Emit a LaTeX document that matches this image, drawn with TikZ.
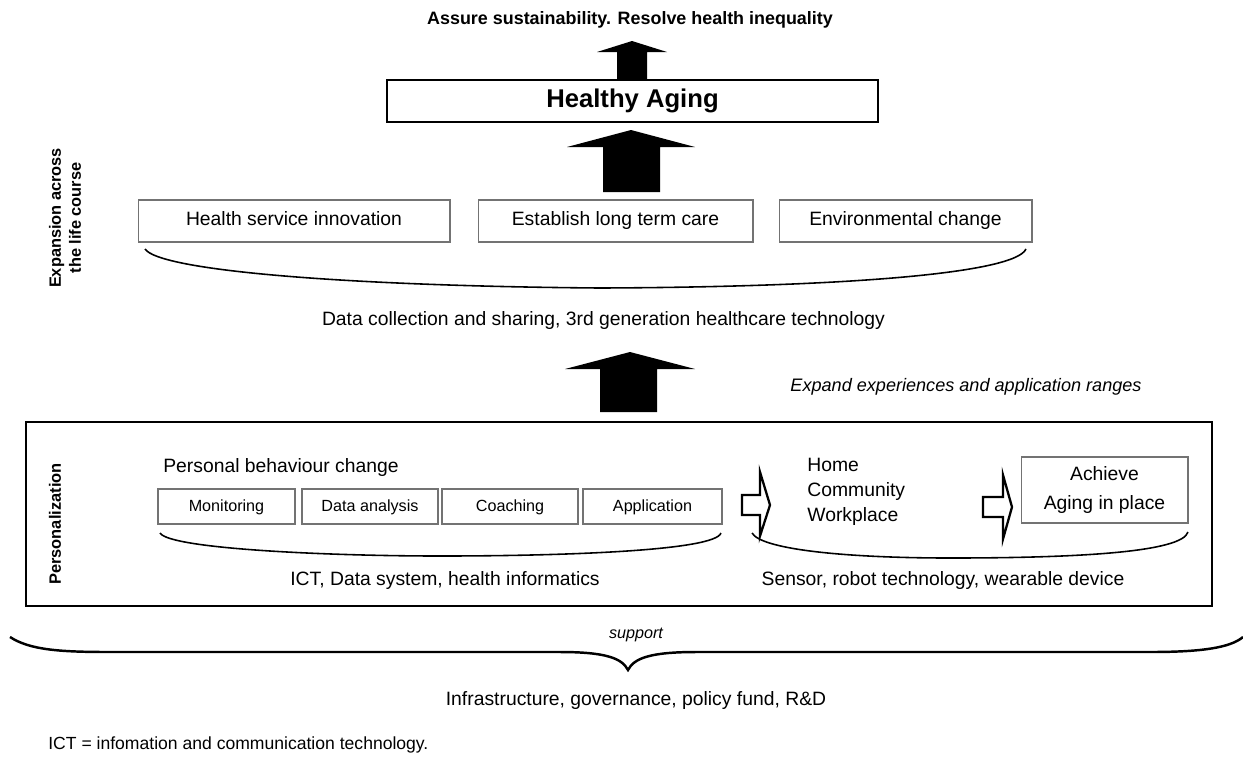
\documentclass[tikz,border=0pt]{standalone}
\usepackage{fontspec}
\setmainfont{Liberation Sans}
\begin{document}
\begin{tikzpicture}[x=0.02cm, y=-0.02cm,
    txt/.style={inner sep=0pt, font=\fontsize{11}{13}\selectfont},
    wbox/.style={draw=black!55, line width=0.6pt, minimum height=0.84cm,
      inner sep=0pt, text height=1.6ex, text depth=0.6ex,
      font=\fontsize{11}{13}\selectfont},
    sbox/.style={draw=black!55, line width=0.6pt, minimum height=0.7cm,
      inner sep=0pt, text height=1.6ex, text depth=0.6ex,
      font=\fontsize{9.2}{11}\selectfont},
    brace/.style={line width=0.9pt},
    hollow/.style={draw, line width=1.3pt, line join=miter, fill=white}]
  \useasboundingbox (0,0) rectangle (1243,765);

  % Goal
  \node[txt, font=\bfseries\fontsize{10.2}{12}\selectfont] (goal) at (630,20)
    {Assure sustainability. Resolve health inequality};
  \fill (617,79)--(617,52)--(597,52)--(632,41)--(667,52)--(647,52)--(647,79)--cycle;
  \node[draw, line width=1.1pt, minimum width=9.82cm, minimum height=0.84cm,
    font=\bfseries\fontsize{14.6}{17}\selectfont] (ha) at (632.5,101) {Healthy Aging};
  \fill (603,192)--(603,147)--(567,147)--(631,130)--(695,147)--(660,147)--(660,192)--cycle;

  % Expansion across the life course
  \node[wbox, minimum width=6.24cm] (hsi) at (294,221) {Health service innovation};
  \node[wbox, minimum width=5.5cm] (ltc) at (615.5,221) {Establish long term care};
  \node[wbox, minimum width=5.06cm] (env) at (905.5,221) {Environmental change};
  \draw[brace] (145,249) .. controls (160,271) and (350,286) .. (600,288)
    .. controls (850,287) and (1015,273) .. (1026,249);
  \node[txt] (data) at (603.5,320)
    {Data collection and sharing, 3rd generation healthcare technology};
  \node[txt, rotate=90, align=center, font=\bfseries\fontsize{9.3}{11.4}\selectfont]
    (expn) at (65,218) {Expansion across\\the life course};
  \fill (600,412)--(600,369)--(565,369)--(630,352)--(695,369)--(657,369)--(657,412)--cycle;
  \node[txt, font=\itshape\fontsize{10.3}{12}\selectfont] (expd) at (966,387)
    {Expand experiences and application ranges};

  % Personalization
  \draw[line width=1.5pt] (26,422) rectangle (1212,606);
  \node[txt, rotate=90, font=\bfseries\fontsize{9.35}{11}\selectfont] (pers) at (55,524)
    {Personalization};
  \node[txt, anchor=west] (pbc) at (163,467) {Personal behaviour change};
  \node[sbox, minimum width=2.74cm] (mon) at (226.5,506.5) {Monitoring};
  \node[sbox, minimum width=2.72cm] (ana) at (370,506.5) {Data analysis};
  \node[sbox, minimum width=2.72cm] (coa) at (510,506.5) {Coaching};
  \node[sbox, minimum width=2.78cm] (app) at (652.5,506.5) {Application};
  \draw[brace] (160,533) .. controls (170,549) and (330,556) .. (440,556)
    .. controls (560,556) and (715,551) .. (721,533);
  \node[txt] (ict) at (445,580) {ICT, Data system, health informatics};
  \draw[hollow] (742,495)--(760,495)--(760,472)--(770,505)--(760,536)--(760,515)--(742,515)--cycle;
  \node[txt, anchor=west, align=left, font=\fontsize{11}{14.2}\selectfont] (place)
    at (807,492) {Home\\Community\\Workplace};
  \draw[hollow] (983,497)--(1003,497)--(1003,475)--(1012,507)--(1003,539)--(1003,517)--(983,517)--cycle;
  \node[draw=black!55, line width=0.6pt, minimum width=3.34cm, minimum height=1.32cm,
    align=center, font=\fontsize{11}{17}\selectfont] (aip) at (1104.5,490)
    {Achieve\\Aging in place};
  \draw[brace] (752,533) .. controls (762,550) and (850,558) .. (950,558)
    .. controls (1080,558) and (1182,552) .. (1188,532);
  \node[txt] (sens) at (943,580) {Sensor, robot technology, wearable device};

  % Support
  \node[txt, font=\itshape\fontsize{9.2}{11}\selectfont] (sup) at (636,635) {support};
  \draw[line width=1.4pt] (10,637) .. controls (30,650) and (60,652) .. (110,652)
    -- (560,652) .. controls (605,652) and (622,658) .. (628,670)
    .. controls (634,658) and (651,652) .. (696,652) -- (1150,652)
    .. controls (1200,652) and (1230,648) .. (1243,637);
  \node[txt] (infra) at (636,700) {Infrastructure, governance, policy fund, R\&D};
  \node[txt, anchor=west, font=\fontsize{10}{12}\selectfont] (note) at (48,745)
    {ICT = infomation and communication technology.};
\end{tikzpicture}
\end{document}
